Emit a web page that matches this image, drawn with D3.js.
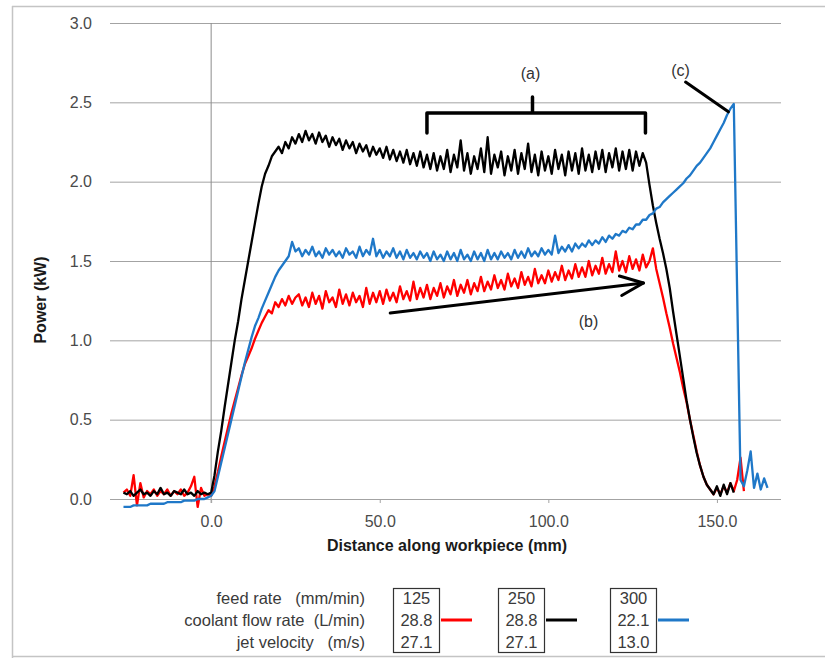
<!DOCTYPE html>
<html>
<head>
<meta charset="utf-8">
<script src="https://cdn.jsdelivr.net/npm/d3@7"></script>
<style>
  html, body { margin: 0; padding: 0; background: #ffffff; }
  svg { display: block; font-family: "Liberation Sans", Arial, Helvetica, sans-serif; }
</style>
</head>
<body>
<svg id="chart" width="825" height="658"></svg>
<script>
// ---- Spindle power records, sampled every 1 mm from -26 mm ----
const sampleStart = -26;   // mm
const sampleStep = 1;      // mm

// feed 125 mm/min, coolant 28.8 L/min, jet 27.1 m/s  (-26 ... 158 mm)
const powerRed = [
  0.04,0.06,0.02,0.15,-0.04,0.10,0.01,0.05,0.03,0.06,
  0.02,0.05,0.03,0.06,0.02,0.05,0.03,0.06,0.02,0.04,
  0.08,0.14,-0.05,0.07,0.02,0.03,0.02,0.08,0.17,0.27,
  0.36,0.45,0.54,0.62,0.70,0.78,0.85,0.90,0.95,1.01,
  1.06,1.11,1.15,1.19,1.17,1.24,1.21,1.26,1.22,1.28,
  1.23,1.27,1.29,1.22,1.27,1.21,1.30,1.23,1.28,1.20,
  1.31,1.24,1.27,1.21,1.32,1.23,1.29,1.22,1.30,1.24,
  1.28,1.21,1.33,1.23,1.30,1.24,1.31,1.23,1.32,1.25,
  1.30,1.24,1.34,1.26,1.31,1.25,1.37,1.26,1.33,1.27,
  1.35,1.26,1.33,1.28,1.36,1.27,1.34,1.29,1.38,1.28,
  1.35,1.30,1.38,1.29,1.36,1.31,1.40,1.31,1.37,1.32,
  1.41,1.33,1.38,1.32,1.42,1.34,1.39,1.33,1.43,1.35,
  1.40,1.34,1.45,1.36,1.41,1.36,1.44,1.37,1.43,1.38,
  1.47,1.38,1.44,1.39,1.48,1.40,1.46,1.40,1.50,1.41,
  1.47,1.42,1.52,1.42,1.48,1.43,1.56,1.44,1.50,1.43,
  1.53,1.45,1.51,1.44,1.54,1.46,1.50,1.58,1.45,1.36,
  1.27,1.17,1.08,0.98,0.89,0.80,0.70,0.61,0.50,0.40,
  0.30,0.21,0.14,0.09,0.06,0.03,0.07,0.03,0.08,0.04,
  0.10,0.05,0.12,0.26,0.05
];

// feed 250 mm/min, coolant 28.8 L/min, jet 27.1 m/s  (-26 ... 155 mm)
const powerBlack = [
  0.04,0.03,0.05,0.02,0.04,0.06,0.03,0.04,0.02,0.05,
  0.03,0.07,0.03,0.04,0.02,0.05,0.04,0.03,0.06,0.03,
  0.04,0.02,0.05,0.03,0.04,0.03,0.04,0.15,0.30,0.43,
  0.58,0.72,0.86,1.00,1.12,1.26,1.38,1.50,1.62,1.74,
  1.86,1.97,2.05,2.10,2.16,2.19,2.22,2.18,2.25,2.21,
  2.28,2.24,2.30,2.25,2.32,2.26,2.30,2.24,2.31,2.25,
  2.29,2.22,2.28,2.23,2.27,2.20,2.26,2.21,2.25,2.18,
  2.24,2.19,2.23,2.16,2.22,2.17,2.21,2.15,2.22,2.14,
  2.20,2.13,2.19,2.12,2.20,2.11,2.18,2.10,2.19,2.09,
  2.17,2.08,2.18,2.07,2.16,2.08,2.20,2.06,2.17,2.09,
  2.26,2.07,2.18,2.05,2.16,2.08,2.21,2.06,2.28,2.05,
  2.17,2.09,2.19,2.04,2.16,2.07,2.20,2.05,2.18,2.08,
  2.24,2.06,2.17,2.04,2.19,2.07,2.16,2.05,2.20,2.08,
  2.17,2.04,2.19,2.07,2.18,2.05,2.21,2.07,2.17,2.06,
  2.19,2.08,2.20,2.06,2.18,2.09,2.21,2.07,2.19,2.08,
  2.20,2.07,2.19,2.10,2.18,2.12,1.98,1.85,1.74,1.64,
  1.55,1.45,1.33,1.18,1.04,0.90,0.76,0.62,0.50,0.39,
  0.29,0.21,0.14,0.09,0.06,0.03,0.08,0.02,0.09,0.03,
  0.10,0.04
];

// feed 300 mm/min, coolant 22.1 L/min, jet 13.0 m/s  (-26 ... 165 mm)
const powerBlue = [
  -0.05,-0.05,-0.05,-0.04,-0.04,-0.04,-0.04,-0.04,-0.03,-0.03,
  -0.03,-0.03,-0.03,-0.02,-0.02,-0.02,-0.02,-0.02,-0.01,-0.01,
  -0.01,-0.01,0.00,0.00,0.00,0.01,0.02,0.05,0.14,0.23,
  0.32,0.41,0.50,0.59,0.68,0.77,0.86,0.94,1.02,1.09,
  1.14,1.20,1.25,1.30,1.35,1.40,1.44,1.47,1.50,1.53,
  1.62,1.56,1.58,1.53,1.57,1.54,1.59,1.53,1.56,1.52,
  1.58,1.54,1.57,1.53,1.56,1.52,1.58,1.54,1.56,1.52,
  1.59,1.53,1.57,1.54,1.64,1.53,1.57,1.52,1.56,1.53,
  1.58,1.52,1.56,1.51,1.57,1.52,1.55,1.51,1.56,1.52,
  1.55,1.50,1.56,1.51,1.54,1.50,1.56,1.51,1.55,1.50,
  1.57,1.51,1.54,1.50,1.56,1.51,1.55,1.50,1.57,1.51,
  1.55,1.51,1.56,1.52,1.55,1.51,1.57,1.52,1.56,1.52,
  1.58,1.53,1.56,1.53,1.58,1.54,1.57,1.54,1.66,1.55,
  1.59,1.56,1.60,1.56,1.61,1.58,1.61,1.59,1.63,1.60,
  1.63,1.61,1.65,1.62,1.66,1.64,1.67,1.66,1.69,1.68,
  1.71,1.70,1.73,1.73,1.76,1.76,1.79,1.80,1.83,1.84,
  1.87,1.89,1.91,1.93,1.95,1.97,1.99,2.02,2.04,2.07,
  2.10,2.12,2.15,2.18,2.21,2.25,2.29,2.33,2.37,2.42,
  2.46,2.49,1.30,0.12,0.08,0.18,0.30,0.07,0.16,0.06,
  0.13,0.07
];

// ---- Axes ----
const xTicks = [0, 50, 100, 150];
const yTicks = [0, 0.5, 1.0, 1.5, 2.0, 2.5, 3.0];
const xTitle = "Distance along workpiece (mm)";
const yTitle = "Power (kW)";

// ---- Legend table ----
const rowLabels = ["feed rate   (mm/min)", "coolant flow rate  (L/min)", "jet velocity   (m/s)"];
const feedRates = ["125", "250", "300"];
const coolantFlows = ["28.8", "28.8", "22.1"];
const jetVelocities = ["27.1", "27.1", "13.0"];
const seriesColors = ["#ff0000", "#000000", "#1f78c8"];

// ---- Annotations (mm, kW) ----
const bracketA = { x0: 64, x1: 128.8, xMid: 95.3, yBar: 2.433, yTip: 2.307, yStem: 2.534 };
const labelA = { x: 94.7, y: 2.685, text: "(a)" };
const arrowB = { x0: 53.1, y0: 1.172, x1: 128.2, y1: 1.361 };
const labelB = { x: 111.9, y: 1.122, text: "(b)" };
const leaderC = { x0: 140.7, y0: 2.628, x1: 153.4, y1: 2.44 };
const labelC = { x: 139.2, y: 2.704, text: "(c)" };

// =================================================================
const svg = d3.select("#chart");
const W = 825, H = 658;

const x = d3.scaleLinear().domain([-30, 169]).range([110, 781]);
const y = d3.scaleLinear().domain([0, 3]).range([499, 23]);

const gridColor = "#a3a3a3";
const textColor = "#4a4a4a";

// outer frame (left, top, bottom edges)
const frame = svg.append("g").attr("stroke", "#c4c4c4").attr("stroke-width", 1.5);
frame.append("line").attr("x1", 12.5).attr("x2", 12.5).attr("y1", 6).attr("y2", H);
frame.append("line").attr("x1", 12).attr("x2", W).attr("y1", 6.5).attr("y2", 6.5);
frame.append("line").attr("x1", 12).attr("x2", W).attr("y1", 656.5).attr("y2", 656.5);

// y axis with horizontal gridlines
const yAxis = d3.axisLeft(y)
  .tickValues(yTicks)
  .tickFormat(d3.format(".1f"))
  .tickSizeInner(-(x.range()[1] - x.range()[0]))
  .tickSizeOuter(0)
  .tickPadding(18);
const gy = svg.append("g").attr("transform", `translate(${x.range()[0]},0)`).call(yAxis);
gy.select(".domain").remove();
gy.selectAll(".tick line").attr("stroke", gridColor).attr("stroke-width", 1);
gy.selectAll(".tick text")
  .attr("fill", textColor).attr("font-size", 16)
  .attr("font-family", "Liberation Sans, Arial, sans-serif");

// vertical axis at zero distance
svg.append("line")
  .attr("x1", x(0)).attr("x2", x(0))
  .attr("y1", y(3)).attr("y2", y(0) + 4)
  .attr("stroke", "#8c8c8c").attr("stroke-width", 1);

// x axis (ticks and labels under the zero gridline)
const xAxis = d3.axisBottom(x)
  .tickValues(xTicks)
  .tickFormat(d3.format(".1f"))
  .tickSizeInner(4)
  .tickSizeOuter(0)
  .tickPadding(13);
const gx = svg.append("g").attr("transform", `translate(0,${y(0)})`).call(xAxis);
gx.select(".domain").remove();
gx.selectAll(".tick line").attr("stroke", gridColor);
gx.selectAll(".tick text")
  .attr("fill", textColor).attr("font-size", 16)
  .attr("font-family", "Liberation Sans, Arial, sans-serif");

// axis titles
svg.append("text")
  .attr("x", 447).attr("y", 545).attr("dy", "0.35em")
  .attr("text-anchor", "middle")
  .attr("font-size", 16).attr("font-weight", "bold").attr("fill", "#1a1a1a")
  .text(xTitle);
svg.append("text")
  .attr("transform", "translate(40,300) rotate(-90)")
  .attr("dy", "0.35em")
  .attr("text-anchor", "middle")
  .attr("font-size", 16).attr("font-weight", "bold").attr("fill", "#1a1a1a")
  .text(yTitle);

// ---- power traces ----
const line = d3.line()
  .x((d, i) => x(sampleStart + i * sampleStep))
  .y(d => y(d));

const traces = [
  { values: powerRed, color: seriesColors[0] },
  { values: powerBlack, color: seriesColors[1] },
  { values: powerBlue, color: seriesColors[2] }
];
svg.append("g").selectAll("path")
  .data(traces)
  .join("path")
  .attr("d", d => line(d.values))
  .attr("fill", "none")
  .attr("stroke", d => d.color)
  .attr("stroke-width", 2.3)
  .attr("stroke-linejoin", "round");

// ---- annotations ----
const ann = svg.append("g").attr("stroke", "#000").attr("fill", "none").attr("stroke-linecap", "round").attr("stroke-linejoin", "round");

// (a) bracket over the steady cutting zone
ann.append("path")
  .attr("stroke-width", 3.5)
  .attr("d",
    `M${x(bracketA.x0)},${y(bracketA.yTip)} V${y(bracketA.yBar)} H${x(bracketA.x1)} V${y(bracketA.yTip)}` +
    ` M${x(bracketA.xMid)},${y(bracketA.yBar)} V${y(bracketA.yStem)}`);

// (b) trend arrow
const bx0 = x(arrowB.x0), by0 = y(arrowB.y0), bx1 = x(arrowB.x1), by1 = y(arrowB.y1);
ann.append("line").attr("stroke-width", 3)
  .attr("x1", bx0).attr("y1", by0).attr("x2", bx1).attr("y2", by1);
const back = Math.atan2(by0 - by1, bx0 - bx1);
const headLen = 25, headAng = 23 * Math.PI / 180;
ann.append("path").attr("stroke-width", 3)
  .attr("d",
    `M${bx1 + headLen * Math.cos(back + headAng)},${by1 + headLen * Math.sin(back + headAng)}` +
    ` L${bx1},${by1}` +
    ` L${bx1 + headLen * Math.cos(back - headAng)},${by1 + headLen * Math.sin(back - headAng)}`);

// (c) leader to the peak
ann.append("line").attr("stroke-width", 3)
  .attr("x1", x(leaderC.x0)).attr("y1", y(leaderC.y0))
  .attr("x2", x(leaderC.x1)).attr("y2", y(leaderC.y1));

svg.append("g").selectAll("text")
  .data([labelA, labelB, labelC])
  .join("text")
  .attr("x", d => x(d.x)).attr("y", d => y(d.y)).attr("dy", "0.35em")
  .attr("text-anchor", "middle")
  .attr("font-size", 16).attr("fill", "#333")
  .text(d => d.text);

// ---- legend table ----
const legendRows = [598, 620, 642];
const legendColX = [393, 498, 610];
const boxW = 46, boxTop = 588, boxBottom = 652;
const lg = svg.append("g");

lg.selectAll("text.rowlabel")
  .data(rowLabels)
  .join("text")
  .attr("class", "rowlabel")
  .attr("x", 365).attr("y", (d, i) => legendRows[i]).attr("dy", "0.35em")
  .attr("text-anchor", "end")
  .attr("font-size", 16.5).attr("fill", "#3a3a3a")
  .style("white-space", "pre")
  .text(d => d);

const cols = feedRates.map((f, i) => ({
  values: [f, coolantFlows[i], jetVelocities[i]],
  color: seriesColors[i],
  x: legendColX[i]
}));

const colG = lg.selectAll("g.col").data(cols).join("g").attr("class", "col");
colG.append("rect")
  .attr("x", d => d.x + 0.5).attr("y", boxTop + 0.5)
  .attr("width", boxW).attr("height", boxBottom - boxTop)
  .attr("fill", "none").attr("stroke", "#333").attr("stroke-width", 1.2);
colG.selectAll("text")
  .data(d => d.values.map(v => ({ v, x: d.x })))
  .join("text")
  .attr("x", d => d.x + boxW / 2 + 0.5).attr("y", (d, i) => legendRows[i]).attr("dy", "0.35em")
  .attr("text-anchor", "middle")
  .attr("font-size", 16.5).attr("fill", "#3a3a3a")
  .text(d => d.v);
colG.append("line")
  .attr("x1", d => d.x + boxW + 2).attr("x2", d => d.x + boxW + 33)
  .attr("y1", legendRows[1]).attr("y2", legendRows[1])
  .attr("stroke", d => d.color).attr("stroke-width", 3);
</script>
</body>
</html>
